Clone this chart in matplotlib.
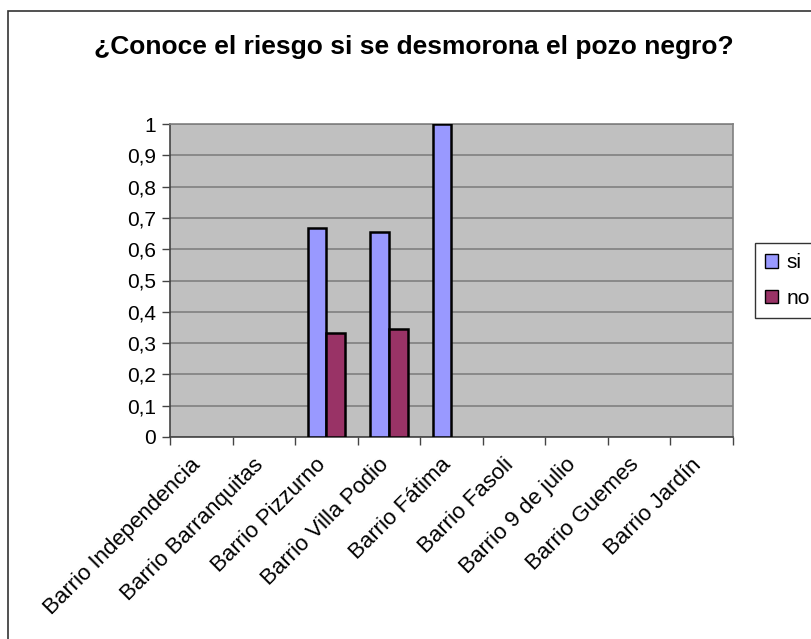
import matplotlib.pyplot as plt
import numpy as np
from matplotlib.patches import Rectangle, Patch

barrios = ['Barrio Independencia', 'Barrio Barranquitas', 'Barrio Pizzurno',
           'Barrio Villa Podio', 'Barrio Fátima', 'Barrio Fasoli',
           'Barrio 9 de julio', 'Barrio Guemes', 'Barrio Jardín']
si = [0, 0, 0.667, 0.655, 1.0, 0, 0, 0, 0]
no = [0, 0, 0.333, 0.345, 0, 0, 0, 0, 0]
yticks = [0, 0.1, 0.2, 0.3, 0.4, 0.5, 0.6, 0.7, 0.8, 0.9, 1]
ytick_labels = ['0', '0,1', '0,2', '0,3', '0,4', '0,5', '0,6', '0,7', '0,8', '0,9', '1']

plt.rcParams['font.family'] = ['Liberation Sans', 'DejaVu Sans']

fig = plt.figure(figsize=(8.12, 6.39), dpi=100)
# marco exterior del gráfico
fig.patches.append(Rectangle((8 / 812, -0.05), 1.1, 628 / 639 + 0.05,
                             transform=fig.transFigure, fill=False,
                             edgecolor='#333333', linewidth=1.2))

ax = fig.add_axes([170 / 812, 202 / 639, 563 / 812, 313 / 639])
ax.set_facecolor('#C0C0C0')

x = np.arange(len(barrios))
w = 0.30
for xi, v in zip(x, si):
    if v > 0:
        ax.bar(xi - w / 2, v, w, color='#9999FF', edgecolor='black', linewidth=1.8, zorder=3)
for xi, v in zip(x, no):
    if v > 0:
        ax.bar(xi + w / 2, v, w, color='#993366', edgecolor='black', linewidth=1.8, zorder=3)

ax.set_xlim(-0.5, len(barrios) - 0.5)
ax.set_ylim(0, 1)
ax.set_yticks(yticks)
ax.set_yticklabels(ytick_labels, fontsize=15)
ax.yaxis.grid(True, color='#808080', linewidth=1.2, zorder=1)
ax.set_axisbelow(True)

ax.set_xticks(np.arange(len(barrios) + 1) - 0.5)
ax.set_xticklabels([])
ax.tick_params(axis='both', direction='out', length=6, width=1, color='#444444')
ax.tick_params(axis='y', pad=4)
for xi, name in zip(x, barrios):
    ax.text(xi - 0.18, -0.055, name, rotation=45, ha='right', va='top',
            rotation_mode='anchor', fontsize=16, transform=ax.transData)

for s in ['top', 'right']:
    ax.spines[s].set_color('#808080')
    ax.spines[s].set_linewidth(1.2)
for s in ['left', 'bottom']:
    ax.spines[s].set_color('#444444')
    ax.spines[s].set_linewidth(1.2)

fig.text(414 / 812, 1 - 47 / 639, '¿Conoce el riesgo si se desmorona el pozo negro?',
         ha='center', va='center', fontsize=19, fontweight='bold')

handles = [Patch(facecolor='#9999FF', edgecolor='black', label='si'),
           Patch(facecolor='#993366', edgecolor='black', label='no')]
leg = fig.legend(handles=handles, loc='upper left',
                 bbox_to_anchor=(755 / 812, 1 - 243 / 639),
                 fontsize=15, frameon=True, fancybox=False,
                 handlelength=0.6, handleheight=0.6, handletextpad=0.4,
                 labelspacing=0.8, borderpad=0.5, borderaxespad=0)
leg.get_frame().set_edgecolor('black')
leg.get_frame().set_linewidth(1)

fig.savefig('out.png', dpi=100)
